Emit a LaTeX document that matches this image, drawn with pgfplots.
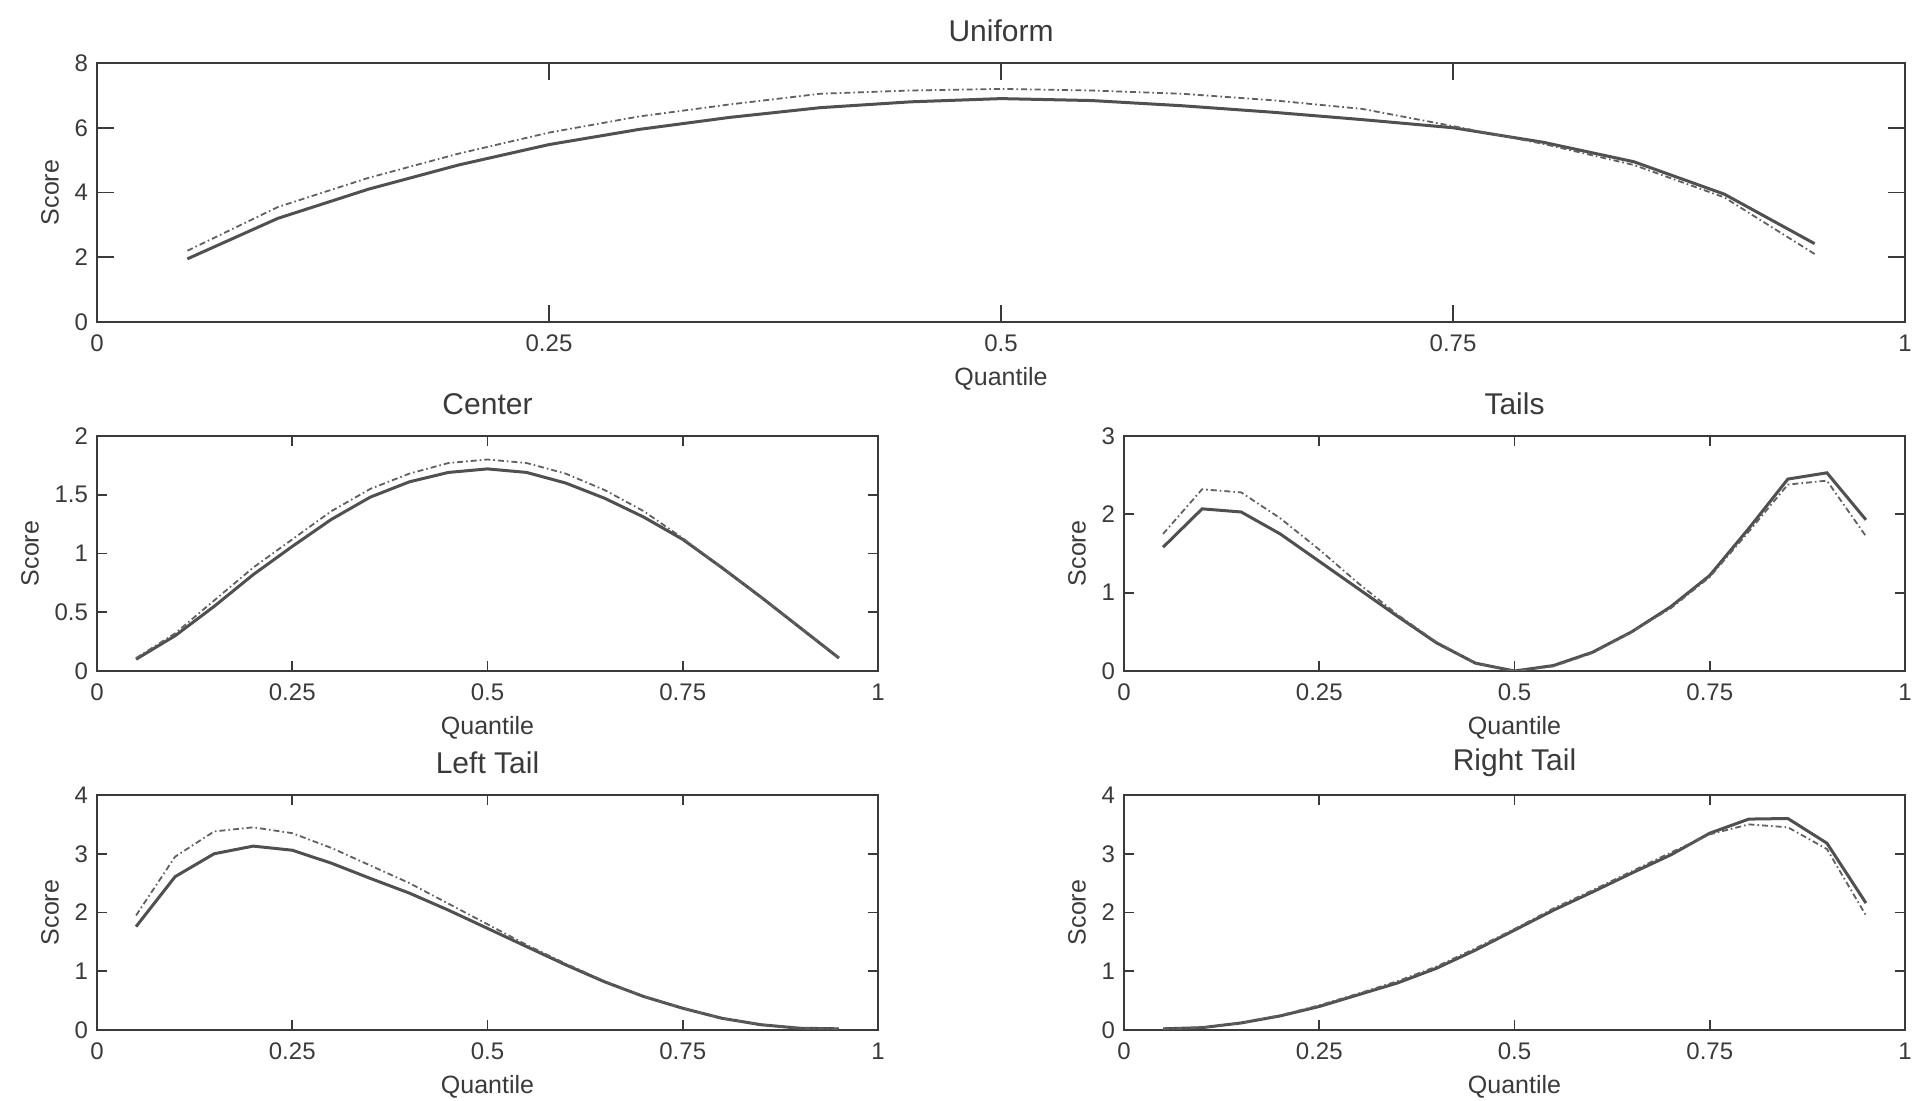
\documentclass[border=0pt]{standalone}
\usepackage{pgfplots}
\pgfplotsset{compat=1.18}
\usepackage{fontspec}
\setmainfont{Liberation Sans}

\definecolor{axgray}{HTML}{3A3A3A}
\definecolor{solidgray}{HTML}{505050}
\definecolor{dashgray}{HTML}{606060}

\pgfplotsset{
  mstyle/.style={
    scale only axis,
    anchor=north west,
    xmin=0, xmax=1,
    xtick={0,0.25,0.5,0.75,1},
    xticklabels={0,0.25,0.5,0.75,1},
    tick align=inside,
    tick pos=both,
    axis line style={line width=1.2pt, axgray},
    every tick/.style={axgray, line width=0.9pt},
    tick label style={font=\fontsize{12}{12}\selectfont, text=axgray},
    xticklabel style={anchor=center, yshift=-10.5pt},
    yticklabel style={xshift=-1pt},
    label style={font=\fontsize{12.5}{12.5}\selectfont, text=axgray},
    xlabel style={at={(axis description cs:0.5,0)}, anchor=center, yshift=-28.5pt},
    ylabel style={yshift=1pt},
    title style={at={(axis description cs:0.5,1)}, anchor=center, yshift=10pt, font=\fontsize{15}{15}\selectfont, text=axgray},
    xlabel=Quantile, ylabel=Score,
  },
  small/.style={mstyle, width=390.5pt, height=117.5pt, major tick length=4.8pt},
  solidline/.style={solidgray, line width=1.5pt},
  dashline/.style={dashgray, line width=0.9pt, dash pattern=on 3pt off 1.5pt on 0.8pt off 1.5pt},
}

\begin{document}
\begin{tikzpicture}
\useasboundingbox (0,0) rectangle (956pt,-550.5pt);

% ---------------- Uniform ----------------
\begin{axis}[mstyle, at={(48.5pt,-31.5pt)}, width=904pt, height=129.5pt,
  major tick length=8.5pt,
  ymin=0, ymax=8, ytick={0,2,4,6,8}, yticklabels={0,2,4,6,8},
  title={Uniform}]
\addplot[solidline] coordinates {
(0.05,1.95) (0.10,3.20) (0.15,4.10) (0.20,4.85) (0.25,5.48) (0.30,5.95)
(0.35,6.32) (0.40,6.62) (0.45,6.80) (0.50,6.90) (0.55,6.84) (0.60,6.68)
(0.65,6.48) (0.70,6.25) (0.75,6.00) (0.80,5.55) (0.85,4.95) (0.90,3.95) (0.95,2.42)};
\addplot[dashline] coordinates {
(0.05,2.20) (0.10,3.55) (0.15,4.45) (0.20,5.20) (0.25,5.85) (0.30,6.35)
(0.35,6.72) (0.40,7.05) (0.45,7.15) (0.50,7.20) (0.55,7.15) (0.60,7.05)
(0.65,6.85) (0.70,6.58) (0.75,6.05) (0.80,5.50) (0.85,4.85) (0.90,3.85) (0.95,2.10)};
\end{axis}

% ---------------- Center ----------------
\begin{axis}[small, at={(48.5pt,-218pt)},
  ymin=0, ymax=2, ytick={0,0.5,1,1.5,2}, yticklabels={0,0.5,1,1.5,2},
  title={Center}]
\addplot[solidline] coordinates {
(0.05,0.10) (0.10,0.30) (0.15,0.55) (0.20,0.82) (0.25,1.06) (0.30,1.29)
(0.35,1.48) (0.40,1.61) (0.45,1.69) (0.50,1.72) (0.55,1.69) (0.60,1.60)
(0.65,1.47) (0.70,1.31) (0.75,1.12) (0.80,0.88) (0.85,0.63) (0.90,0.37) (0.95,0.11)};
\addplot[dashline] coordinates {
(0.05,0.11) (0.10,0.32) (0.15,0.60) (0.20,0.88) (0.25,1.12) (0.30,1.36)
(0.35,1.55) (0.40,1.68) (0.45,1.77) (0.50,1.80) (0.55,1.77) (0.60,1.68)
(0.65,1.54) (0.70,1.36) (0.75,1.13) (0.80,0.88) (0.85,0.63) (0.90,0.37) (0.95,0.11)};
\end{axis}

% ---------------- Tails ----------------
\begin{axis}[small, at={(562pt,-218pt)},
  ymin=0, ymax=3, ytick={0,1,2,3}, yticklabels={0,1,2,3},
  title={Tails}]
\addplot[solidline] coordinates {
(0.05,1.58) (0.10,2.07) (0.15,2.03) (0.20,1.75) (0.25,1.40) (0.30,1.05)
(0.35,0.70) (0.40,0.36) (0.45,0.10) (0.50,0.00) (0.55,0.07) (0.60,0.24)
(0.65,0.50) (0.70,0.82) (0.75,1.22) (0.80,1.82) (0.85,2.45) (0.90,2.53) (0.95,1.93)};
\addplot[dashline] coordinates {
(0.05,1.75) (0.10,2.32) (0.15,2.28) (0.20,1.95) (0.25,1.55) (0.30,1.12)
(0.35,0.72) (0.40,0.37) (0.45,0.10) (0.50,0.00) (0.55,0.06) (0.60,0.23)
(0.65,0.50) (0.70,0.80) (0.75,1.20) (0.80,1.78) (0.85,2.38) (0.90,2.43) (0.95,1.72)};
\end{axis}

% ---------------- Left Tail ----------------
\begin{axis}[small, at={(48.5pt,-397.5pt)},
  ymin=0, ymax=4, ytick={0,1,2,3,4}, yticklabels={0,1,2,3,4},
  title={Left Tail}]
\addplot[solidline] coordinates {
(0.05,1.76) (0.10,2.61) (0.15,3.00) (0.20,3.13) (0.25,3.06) (0.30,2.84)
(0.35,2.58) (0.40,2.33) (0.45,2.04) (0.50,1.73) (0.55,1.42) (0.60,1.11)
(0.65,0.82) (0.70,0.57) (0.75,0.37) (0.80,0.20) (0.85,0.09) (0.90,0.03) (0.95,0.02)};
\addplot[dashline] coordinates {
(0.05,1.95) (0.10,2.95) (0.15,3.38) (0.20,3.45) (0.25,3.35) (0.30,3.10)
(0.35,2.80) (0.40,2.50) (0.45,2.15) (0.50,1.80) (0.55,1.45) (0.60,1.13)
(0.65,0.83) (0.70,0.57) (0.75,0.37) (0.80,0.20) (0.85,0.09) (0.90,0.03) (0.95,0.02)};
\end{axis}

% ---------------- Right Tail ----------------
\begin{axis}[small, at={(562pt,-397.5pt)},
  ymin=0, ymax=4, ytick={0,1,2,3,4}, yticklabels={0,1,2,3,4},
  title={Right Tail}]
\addplot[solidline] coordinates {
(0.05,0.02) (0.10,0.04) (0.15,0.12) (0.20,0.24) (0.25,0.40) (0.30,0.60)
(0.35,0.80) (0.40,1.05) (0.45,1.36) (0.50,1.70) (0.55,2.04) (0.60,2.35)
(0.65,2.67) (0.70,2.98) (0.75,3.35) (0.80,3.59) (0.85,3.60) (0.90,3.18) (0.95,2.16)};
\addplot[dashline] coordinates {
(0.05,0.02) (0.10,0.04) (0.15,0.12) (0.20,0.25) (0.25,0.42) (0.30,0.62)
(0.35,0.83) (0.40,1.08) (0.45,1.39) (0.50,1.72) (0.55,2.07) (0.60,2.38)
(0.65,2.70) (0.70,3.02) (0.75,3.33) (0.80,3.50) (0.85,3.45) (0.90,3.08) (0.95,1.95)};
\end{axis}
\end{tikzpicture}
\end{document}
